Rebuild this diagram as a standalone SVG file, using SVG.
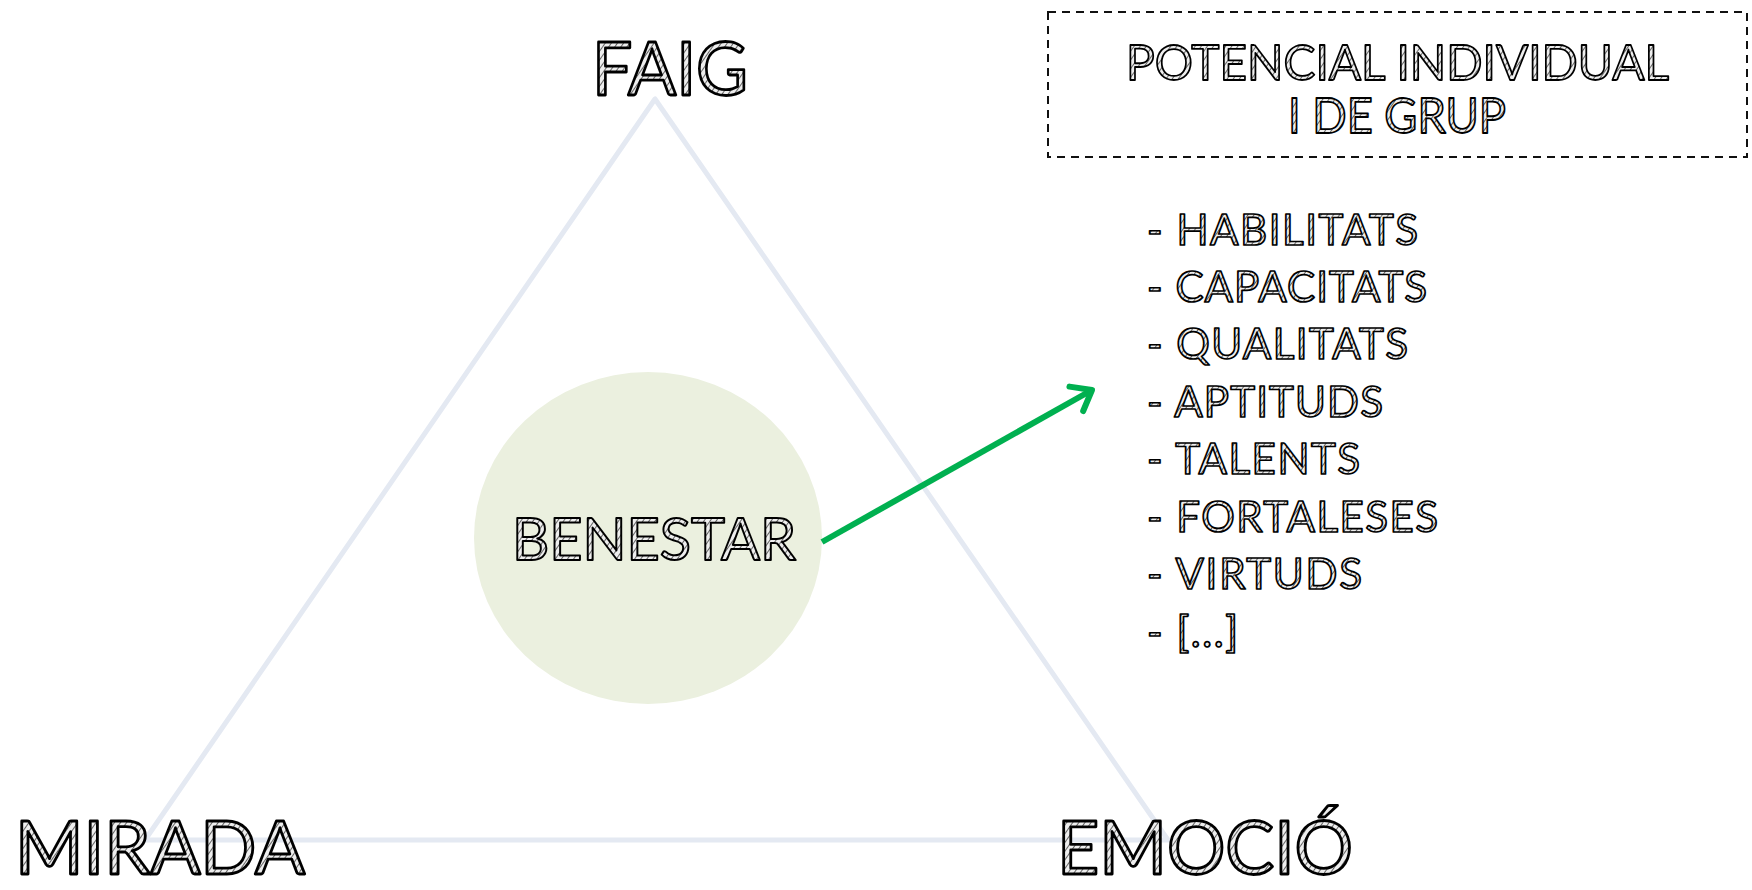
<svg xmlns="http://www.w3.org/2000/svg" width="1752" height="890" viewBox="0 0 1752 890">
<defs>
<pattern id="hatch" width="5" height="5" patternUnits="userSpaceOnUse" patternTransform="rotate(35)">
<rect width="5" height="5" fill="#eeeeee"/>
<line x1="0" y1="0" x2="0" y2="5" stroke="#555" stroke-width="1.8"/>
</pattern>
<marker id="arrowOpen" markerUnits="userSpaceOnUse" markerWidth="40" markerHeight="40" refX="26" refY="20" orient="auto" viewBox="0 0 40 40">
<path d="M8,6 L26,20 L8,34" fill="none" stroke="#00B050" stroke-width="6" stroke-linecap="round" stroke-linejoin="round"/>
</marker>
<style>
.sk{font-family:Lato,"Open Sans","Liberation Sans",sans-serif;fill:url(#hatch);stroke:#000;stroke-linejoin:round}
.big{font-size:73px;stroke-width:2.8}
.mid{font-size:58px;stroke-width:2}
.ttl{font-size:49px;stroke-width:1.8}
.lst{font-size:42px;stroke-width:1.7}
.tri{fill:none;stroke:#E4E9F2;stroke-width:5;stroke-linejoin:round}
</style>
</defs>
<rect width="1752" height="890" fill="#fff"/>
<g id="triangle">
<polygon class="tri" points="655,99 145,840 1168,840"/>
</g>
<g id="benestar">
<ellipse cx="648" cy="538" rx="174" ry="166" fill="#EBF0DF"/>
<text class="sk mid" x="512" y="560" textLength="284" lengthAdjust="spacingAndGlyphs">BENESTAR</text>
</g>
<g id="faig">
<text class="sk big" x="592" y="95" textLength="156" lengthAdjust="spacingAndGlyphs" style="font-size:74px">FAIG</text>
</g>
<g id="mirada">
<text class="sk big" x="15" y="874" textLength="290" lengthAdjust="spacingAndGlyphs">MIRADA</text>
</g>
<g id="emocio">
<text class="sk big" x="1057" y="874" textLength="296" lengthAdjust="spacingAndGlyphs">EMOCIÓ</text>
</g>
<g id="potencial">
<rect x="1048" y="12" width="699" height="145" fill="none" stroke="#111" stroke-width="2" stroke-dasharray="8,6"/>
<text class="sk ttl" x="1126" y="80" textLength="543" lengthAdjust="spacingAndGlyphs">POTENCIAL INDIVIDUAL</text>
<text class="sk ttl" x="1288" y="133" textLength="218" lengthAdjust="spacingAndGlyphs">I DE GRUP</text>
</g>
<g id="llista">
<text class="sk lst" x="1147" y="245" textLength="271">- HABILITATS</text>
<text class="sk lst" x="1147" y="302" textLength="280">- CAPACITATS</text>
<text class="sk lst" x="1147" y="359" textLength="261">- QUALITATS</text>
<text class="sk lst" x="1147" y="417" textLength="236">- APTITUDS</text>
<text class="sk lst" x="1147" y="474" textLength="213">- TALENTS</text>
<text class="sk lst" x="1147" y="532" textLength="291">- FORTALESES</text>
<text class="sk lst" x="1147" y="589" textLength="215">- VIRTUDS</text>
<text class="sk lst" x="1147" y="647" textLength="91">- [...]</text>
</g>
<g id="connectors">
<line x1="822" y1="542" x2="1092" y2="390" stroke="#00B050" stroke-width="6" marker-end="url(#arrowOpen)"/>
</g>
</svg>
